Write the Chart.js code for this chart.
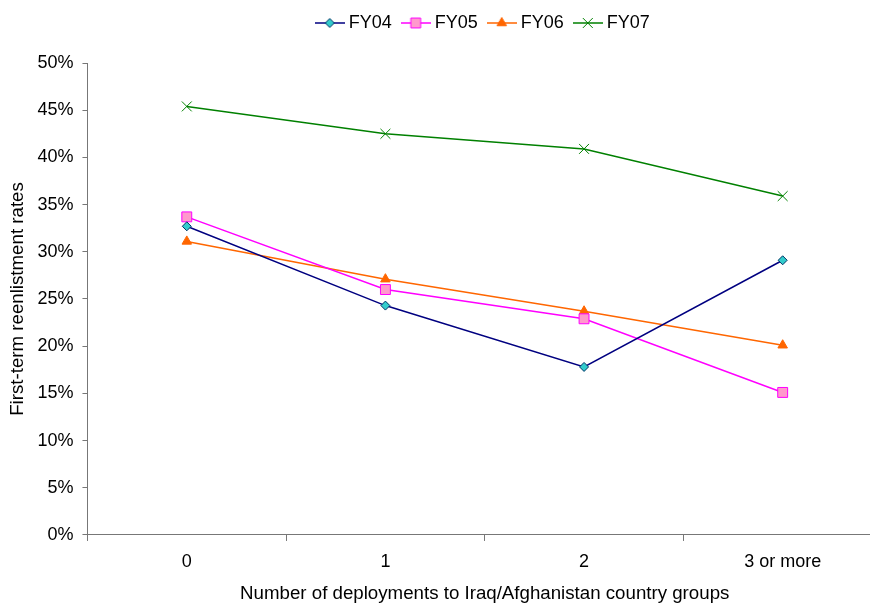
<!DOCTYPE html>
<html>
<head>
<meta charset="utf-8">
<script src="https://cdn.jsdelivr.net/npm/chart.js@4/dist/chart.umd.min.js"></script>
<style>
	html, body { margin: 0; padding: 0; background: #fff; }
	#frame { width: 870px; height: 603px; overflow: hidden; position: relative; }
	#box { width: 900px; height: 603px; position: absolute; left: 0; top: 0; }
</style>
</head>
<body>
<div id="frame"><div id="box"><canvas id="chart"></canvas></div></div>
<script>
const categories = ['0', '1', '2', '3 or more'];
const yTicks = [0, 5, 10, 15, 20, 25, 30, 35, 40, 45, 50];
const fy04 = [32.7, 24.3, 17.8, 29.1];
const fy05 = [33.7, 26.0, 22.9, 15.1];
const fy06 = [31.1, 27.1, 23.7, 20.1];
const fy07 = [45.4, 42.5, 40.9, 35.9];

const FONT = '"Liberation Sans", Arial, sans-serif';

const series = [
	{label: 'FY04', data: fy04, line: '#000080', fill: '#33CCCC', edge: '#003366', style: 'rectRot', r: 4.5},
	{label: 'FY05', data: fy05, line: '#FF00FF', fill: '#FF99CC', edge: '#FF00FF', style: 'rect', r: 7},
	{label: 'FY06', data: fy06, line: '#FF6600', fill: '#FF6600', edge: '#FF6600', style: 'triangle', r: 5.5},
	{label: 'FY07', data: fy07, line: '#008000', fill: '#008000', edge: '#008000', style: 'crossRot', r: 7}
];

// legend symbol: short line with the marker in the middle
function legendSymbol(s) {
	const c = document.createElement('canvas');
	c.width = 30;
	c.height = 16;
	const ctx = c.getContext('2d');
	ctx.strokeStyle = s.line;
	ctx.lineWidth = 1.5;
	ctx.beginPath();
	ctx.moveTo(0, 8);
	ctx.lineTo(30, 8);
	ctx.stroke();
	ctx.fillStyle = s.fill;
	ctx.strokeStyle = s.edge;
	ctx.lineWidth = 1;
	Chart.helpers.drawPoint(ctx, {pointStyle: s.style, radius: s.r, borderWidth: 1, rotation: 0}, 15, 8);
	return c;
}

const symbols = series.map(legendSymbol);

// leave a gap under the legend, like the original
const legendGap = {
	id: 'legendGap',
	beforeLayout(chart) {
		const lg = chart.legend;
		if (lg && !lg._gapPatched) {
			const fit = lg.fit;
			lg.fit = function() {
				fit.call(this);
				this.height += 21;
			};
			lg._gapPatched = true;
		}
	}
};

new Chart(document.getElementById('chart'), {
	type: 'line',
	data: {
		labels: categories,
		datasets: series.map(s => ({
			label: s.label,
			data: s.data,
			borderColor: s.line,
			backgroundColor: s.fill,
			borderWidth: 1.5,
			pointStyle: s.style,
			pointRadius: s.r,
			pointHoverRadius: s.r,
			pointBackgroundColor: s.fill,
			pointBorderColor: s.edge,
			pointBorderWidth: 1,
			tension: 0,
			fill: false
		}))
	},
	options: {
		responsive: true,
		maintainAspectRatio: false,
		animation: false,
		layout: {padding: {left: 7, right: 18, top: 0, bottom: 0}},
		plugins: {
			tooltip: {enabled: false},
			legend: {
				position: 'top',
				fullSize: false,
				labels: {
					usePointStyle: true,
					pointStyleWidth: 20,
					boxHeight: 16,
					padding: 14,
					color: '#000',
					font: {family: FONT, size: 18},
					generateLabels(chart) {
						return Chart.defaults.plugins.legend.labels.generateLabels(chart).map((l, i) => {
							l.pointStyle = symbols[i];
							return l;
						});
					}
				}
			}
		},
		scales: {
			x: {
				offset: true,
				grid: {display: true, drawOnChartArea: false, offset: true, tickLength: 6, color: '#777'},
				border: {color: '#777', width: 1},
				ticks: {color: '#000', font: {family: FONT, size: 18}, padding: 10},
				title: {display: true, text: 'Number of deployments to Iraq/Afghanistan country groups', color: '#000', font: {family: FONT, size: 18.7}, padding: {top: 0, bottom: -2}}
			},
			y: {
				min: 0,
				max: 50,
				afterBuildTicks(scale) {
					scale.ticks = yTicks.map(v => ({value: v}));
				},
				grid: {display: true, drawOnChartArea: false, tickLength: 5, color: '#777'},
				border: {color: '#777', width: 1},
				ticks: {color: '#000', font: {family: FONT, size: 18}, padding: 9, callback: v => v + '%'},
				title: {display: true, text: 'First-term reenlistment rates', color: '#000', font: {family: FONT, size: 18.7}, padding: {top: 0, bottom: -1}}
			}
		}
	},
	plugins: [legendGap]
});
</script>
</body>
</html>
